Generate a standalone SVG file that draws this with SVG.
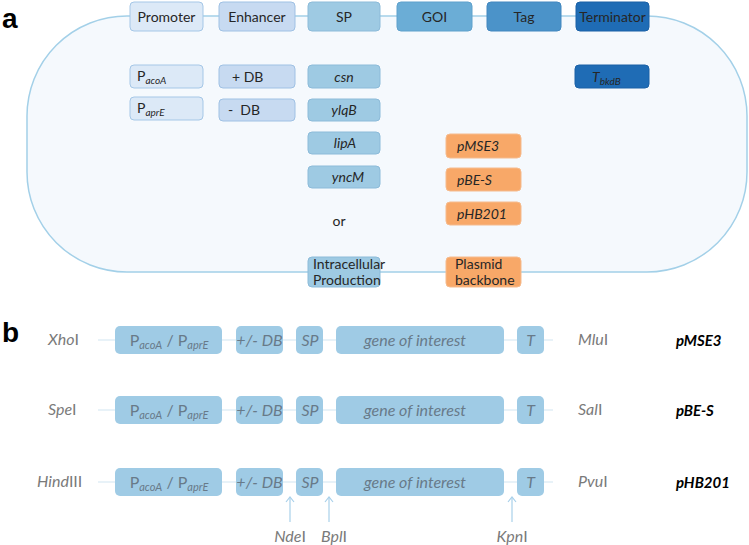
<svg xmlns="http://www.w3.org/2000/svg" width="749" height="545" viewBox="0 0 749 545">
<style>
text{font-family:Lato,"Open Sans","Liberation Sans",sans-serif;}
.lbl{font-size:14px;fill:#262626;}
.it{font-style:italic;}
.sub{font-size:10px;font-style:italic;}
.c1{fill:#dce9f7;stroke:#a5c7e7;stroke-width:1;}
.c2{fill:#c7daf1;stroke:#9fc1e4;stroke-width:1;}
.c3{fill:#9ecae3;stroke:#8cbbd9;stroke-width:1;}
.c4{fill:#6badd6;stroke:#5fa1cc;stroke-width:1;}
.c5{fill:#4b93c9;stroke:#4287bf;stroke-width:1;}
.c6{fill:#1f6cb5;stroke:#1b61a6;stroke-width:1;}
.or{fill:#f8a868;stroke:#f5bb8e;stroke-width:1;}
.bb{fill:#9fcbe5;}
.bt{font-size:16px;fill:#687a89;font-style:italic;}
.bp{font-size:16px;fill:#687a89;}
.bs{font-size:11px;fill:#687a89;font-style:italic;}
.re{font-size:16px;fill:#7a7a7a;}
.pl{font-size:15px;font-weight:bold;font-style:italic;fill:#000;}
.hd{font-family:"Liberation Sans",Arial,sans-serif;font-weight:bold;font-size:28px;fill:#000;}
.ln{stroke:#d2e5f2;stroke-width:1.2;fill:none;}
.ar{stroke:#a8d0ea;stroke-width:1.2;fill:none;}
</style>
<defs>
<marker id="ah" markerWidth="10" markerHeight="10" refX="5" refY="1" orient="0" markerUnits="userSpaceOnUse">
<path d="M1,6 L5,1 L9,6" fill="none" stroke="#a8d0ea" stroke-width="1.2"/>
</marker>
</defs>

<text class="hd" x="2" y="28">a</text>
<text class="hd" x="2" y="342">b</text>

<g id="connectors">
<rect x="27" y="16" width="720" height="256" rx="100" ry="100" fill="#f5f9fd" stroke="#a3d0e8" stroke-width="1.5"/>
<line class="ln" x1="98" y1="340" x2="553" y2="340"/>
<line class="ln" x1="98" y1="410" x2="553" y2="410"/>
<line class="ln" x1="98" y1="482" x2="553" y2="482"/>
<line class="ar" x1="290" y1="522" x2="290" y2="497" marker-end="url(#ah)"/>
<line class="ar" x1="329" y1="522" x2="329" y2="497" marker-end="url(#ah)"/>
<line class="ar" x1="512" y1="522" x2="512" y2="497" marker-end="url(#ah)"/>
</g>

<g id="promoter"><rect class="c1" x="130" y="2" width="73" height="29" rx="4"/><text class="lbl" x="166.5" y="21.5" text-anchor="middle">Promoter</text></g>
<g id="enhancer"><rect class="c2" x="219" y="2" width="76" height="29" rx="4"/><text class="lbl" x="257" y="21.5" text-anchor="middle">Enhancer</text></g>
<g id="sp"><rect class="c3" x="308" y="2" width="72" height="29" rx="4"/><text class="lbl" x="344" y="21.5" text-anchor="middle">SP</text></g>
<g id="goi"><rect class="c4" x="397" y="2" width="75" height="29" rx="4"/><text class="lbl" x="434.5" y="21.5" text-anchor="middle">GOI</text></g>
<g id="tag"><rect class="c5" x="487" y="2" width="74" height="29" rx="4"/><text class="lbl" x="524" y="21.5" text-anchor="middle">Tag</text></g>
<g id="terminator"><rect class="c6" x="576" y="2" width="73" height="29" rx="4"/><text class="lbl" x="612.5" y="21.5" text-anchor="middle">Terminator</text></g>

<g id="pacoa"><rect class="c1" x="130" y="65" width="73" height="23" rx="4"/><text class="lbl" x="137" y="81">P<tspan class="sub" dy="3">acoA</tspan></text></g>
<g id="paprE"><rect class="c1" x="130" y="97" width="73" height="23" rx="4"/><text class="lbl" x="137" y="113">P<tspan class="sub" dy="3">aprE</tspan></text></g>
<g id="plusdb"><rect class="c2" x="219" y="65" width="76" height="23" rx="4"/><text class="lbl" x="232" y="81.5">+ DB</text></g>
<g id="minusdb"><rect class="c2" x="219" y="99" width="76" height="22" rx="4"/><text class="lbl" x="228" y="115" xml:space="preserve">-  DB</text></g>
<g id="csn"><rect class="c3" x="308" y="65" width="72" height="23" rx="4"/><text class="lbl it" x="344" y="81.5" text-anchor="middle" font-size="15">csn</text></g>
<g id="ylqb"><rect class="c3" x="308" y="99" width="72" height="22" rx="4"/><text class="lbl it" x="344" y="115" text-anchor="middle" font-size="15">ylqB</text></g>
<g id="lipa"><rect class="c3" x="308" y="132" width="72" height="22" rx="4"/><text class="lbl it" x="345" y="148" text-anchor="middle" font-size="15">lipA</text></g>
<g id="yncm"><rect class="c3" x="308" y="166" width="72" height="22" rx="4"/><text class="lbl it" x="348" y="182" text-anchor="middle" font-size="15">yncM</text></g>
<text class="lbl" x="339" y="226" text-anchor="middle">or</text>
<g id="intracellular"><rect class="c3" x="308" y="257" width="72" height="30" rx="4"/><text class="lbl" x="313" y="269" font-size="12.5">Intracellular</text><text class="lbl" x="313" y="284.5" font-size="12.5">Production</text></g>
<g id="tbkdb"><rect class="c6" x="575" y="65" width="74" height="23" rx="4"/><text class="lbl it" x="592" y="81.5" font-size="15">T<tspan class="sub" dy="3">bkdB</tspan></text></g>
<g id="pmse3a"><rect class="or" x="446" y="134" width="75" height="24" rx="4"/><text class="lbl it" x="457" y="151" font-size="15">pMSE3</text></g>
<g id="pbesa"><rect class="or" x="446" y="168" width="75" height="23" rx="4"/><text class="lbl it" x="457" y="184.5" font-size="15">pBE-S</text></g>
<g id="phb201a"><rect class="or" x="446" y="202" width="75" height="23" rx="4"/><text class="lbl it" x="457" y="218.5" font-size="15">pHB201</text></g>
<g id="backbone"><rect class="or" x="446" y="257" width="75" height="30" rx="4"/><text class="lbl" x="455" y="269" font-size="12.5">Plasmid</text><text class="lbl" x="455" y="284.5" font-size="12.5">backbone</text></g>

<g id="row1">
<text class="re" x="48" y="345"><tspan class="it">Xho</tspan>I</text>
<rect class="bb" x="115" y="326" width="107" height="28" rx="5"/><text class="bp" x="169" y="345.5" text-anchor="middle">P<tspan class="bs" dy="3">acoA</tspan><tspan dy="-3"> / P</tspan><tspan class="bs" dy="3">aprE</tspan></text>
<rect class="bb" x="236" y="326" width="47" height="28" rx="5"/><text class="bt" x="259.5" y="345.5" text-anchor="middle">+/- DB</text>
<rect class="bb" x="296" y="326" width="27" height="28" rx="5"/><text class="bt" x="310" y="345.5" text-anchor="middle">SP</text>
<rect class="bb" x="336" y="326" width="168" height="28" rx="5"/><text class="bt" x="415" y="345.5" text-anchor="middle">gene of interest</text>
<rect class="bb" x="517" y="326" width="27" height="28" rx="5"/><text class="bt" x="530.5" y="345.5" text-anchor="middle">T</text>
<text class="re" x="578" y="345"><tspan class="it">Mlu</tspan>I</text>
<text class="pl" x="676" y="346">pMSE3</text>
</g>
<g id="row2">
<text class="re" x="48" y="415"><tspan class="it">Spe</tspan>I</text>
<rect class="bb" x="115" y="396" width="107" height="28" rx="5"/><text class="bp" x="169" y="415.5" text-anchor="middle">P<tspan class="bs" dy="3">acoA</tspan><tspan dy="-3"> / P</tspan><tspan class="bs" dy="3">aprE</tspan></text>
<rect class="bb" x="236" y="396" width="47" height="28" rx="5"/><text class="bt" x="259.5" y="415.5" text-anchor="middle">+/- DB</text>
<rect class="bb" x="296" y="396" width="27" height="28" rx="5"/><text class="bt" x="310" y="415.5" text-anchor="middle">SP</text>
<rect class="bb" x="336" y="396" width="168" height="28" rx="5"/><text class="bt" x="415" y="415.5" text-anchor="middle">gene of interest</text>
<rect class="bb" x="517" y="396" width="27" height="28" rx="5"/><text class="bt" x="530.5" y="415.5" text-anchor="middle">T</text>
<text class="re" x="578" y="415"><tspan class="it">Sal</tspan>I</text>
<text class="pl" x="676" y="416">pBE-S</text>
</g>
<g id="row3">
<text class="re" x="37" y="487"><tspan class="it">Hind</tspan>III</text>
<rect class="bb" x="115" y="468" width="107" height="28" rx="5"/><text class="bp" x="169" y="487.5" text-anchor="middle">P<tspan class="bs" dy="3">acoA</tspan><tspan dy="-3"> / P</tspan><tspan class="bs" dy="3">aprE</tspan></text>
<rect class="bb" x="236" y="468" width="47" height="28" rx="5"/><text class="bt" x="259.5" y="487.5" text-anchor="middle">+/- DB</text>
<rect class="bb" x="296" y="468" width="27" height="28" rx="5"/><text class="bt" x="310" y="487.5" text-anchor="middle">SP</text>
<rect class="bb" x="336" y="468" width="168" height="28" rx="5"/><text class="bt" x="415" y="487.5" text-anchor="middle">gene of interest</text>
<rect class="bb" x="517" y="468" width="27" height="28" rx="5"/><text class="bt" x="530.5" y="487.5" text-anchor="middle">T</text>
<text class="re" x="578" y="487"><tspan class="it">Pvu</tspan>I</text>
<text class="pl" x="676" y="488">pHB201</text>
</g>
<g id="sites">
<text class="re" x="290" y="542" text-anchor="middle" font-size="15"><tspan class="it">Nde</tspan>I</text>
<text class="re" x="334" y="542" text-anchor="middle" font-size="15"><tspan class="it">Bpl</tspan>I</text>
<text class="re" x="512" y="542" text-anchor="middle" font-size="15"><tspan class="it">Kpn</tspan>I</text>
</g>
</svg>
